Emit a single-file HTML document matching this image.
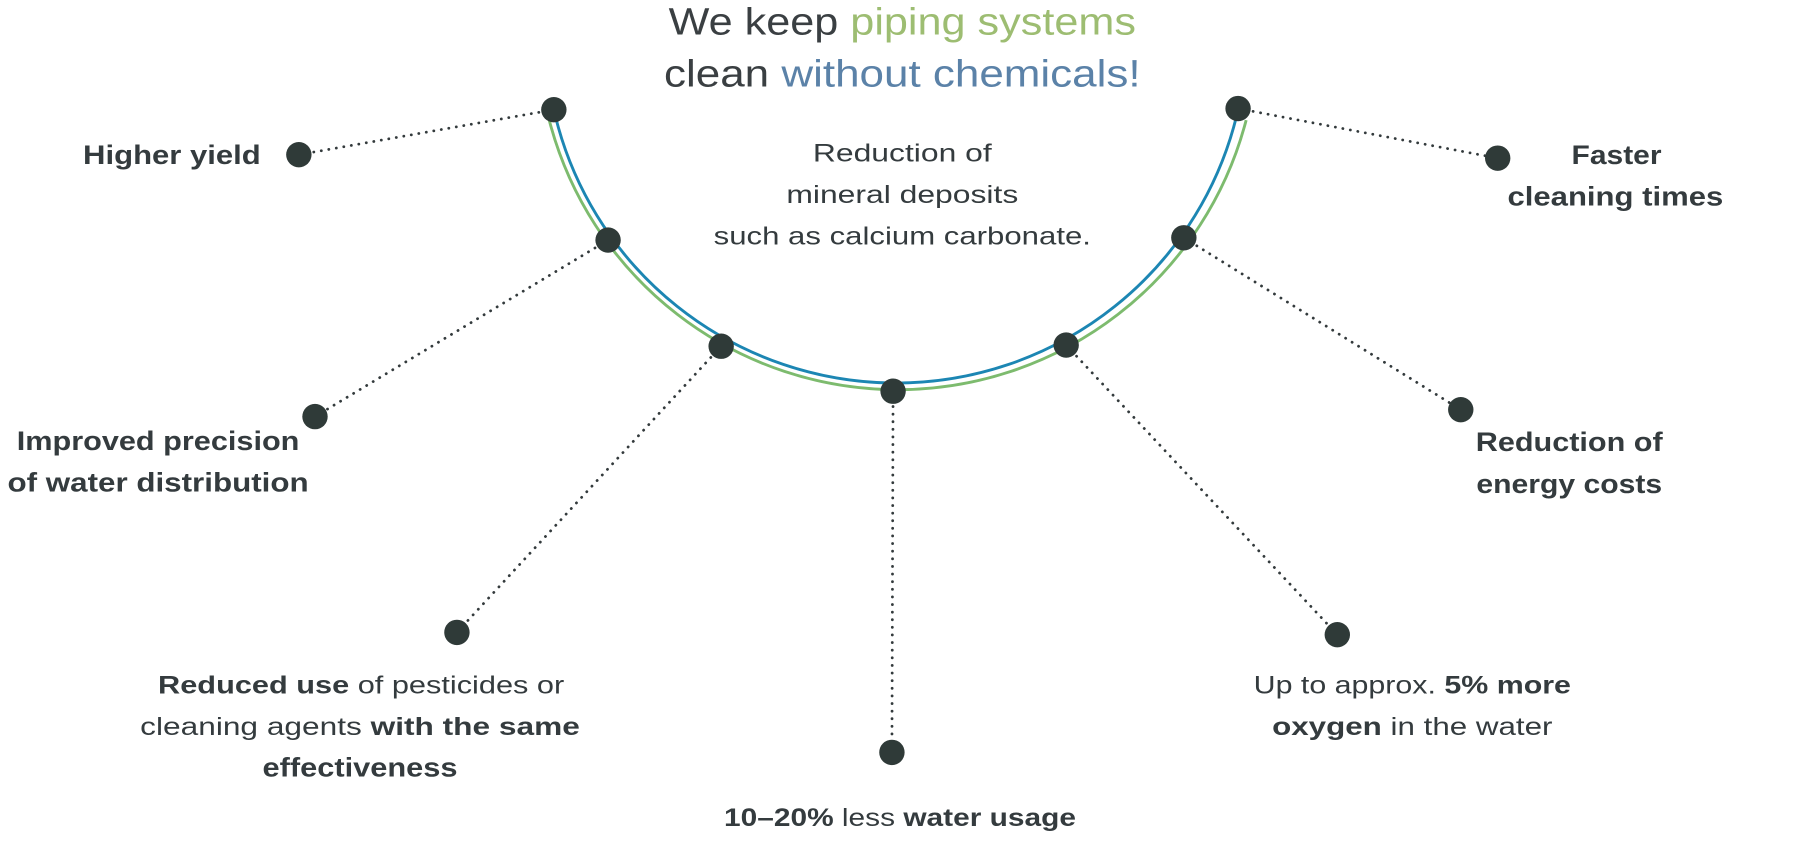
<!DOCTYPE html>
<html><head><meta charset="utf-8"><style>
html,body{margin:0;padding:0;background:#fff;}
svg{display:block;}
text{font-family:"Liberation Sans",sans-serif;fill:#343b3e;}
.b{font-weight:bold;font-size:23px;}
.n{font-size:22px;}
</style></head><body>
<svg width="1800" height="854" viewBox="0 0 1560 740" xmlns="http://www.w3.org/2000/svg">
<text x="782" y="30" text-anchor="middle" font-size="33" textLength="405" lengthAdjust="spacingAndGlyphs" style="fill:#3a3f42">We keep <tspan style="fill:#9dbd72">piping systems</tspan></text>
<text x="782" y="75" text-anchor="middle" font-size="33" textLength="413" lengthAdjust="spacingAndGlyphs" style="fill:#3a3f42">clean <tspan style="fill:#5b82a8">without chemicals!</tspan></text>

<path d="M476 104 A312 312 0 0 0 1080 104" fill="none" stroke="#7dbb6e" stroke-width="2.5"/>
<path d="M480 95 A304 304 0 0 0 1073 95" fill="none" stroke="#1c86b3" stroke-width="2.5"/>

<g stroke="#333a3c" stroke-width="2.4" stroke-dasharray="0.1 6.5" stroke-linecap="round" fill="none">
<line x1="480" y1="95" x2="259" y2="134"/>
<line x1="527" y1="208" x2="273" y2="361"/>
<line x1="625" y1="300" x2="396" y2="548"/>
<line x1="774" y1="339" x2="773" y2="652"/>
<line x1="924" y1="299" x2="1159" y2="550"/>
<line x1="1026" y1="206" x2="1266" y2="355"/>
<line x1="1073" y1="94" x2="1298" y2="137"/>
</g>
<g fill="#2f3a38">
<circle cx="480" cy="95" r="11"/><circle cx="259" cy="134" r="11"/>
<circle cx="527" cy="208" r="11"/><circle cx="273" cy="361" r="11"/>
<circle cx="625" cy="300" r="11"/><circle cx="396" cy="548" r="11"/>
<circle cx="774" cy="339" r="11"/><circle cx="773" cy="652" r="11"/>
<circle cx="924" cy="299" r="11"/><circle cx="1159" cy="550" r="11"/>
<circle cx="1026" cy="206" r="11"/><circle cx="1266" cy="355" r="11"/>
<circle cx="1073" cy="94" r="11"/><circle cx="1298" cy="137" r="11"/>
</g>

<text class="n" x="782" y="140" text-anchor="middle" textLength="155" lengthAdjust="spacingAndGlyphs">Reduction of</text>
<text class="n" x="782" y="176" text-anchor="middle" textLength="201" lengthAdjust="spacingAndGlyphs">mineral deposits</text>
<text class="n" x="782" y="212" text-anchor="middle" textLength="327" lengthAdjust="spacingAndGlyphs">such as calcium carbonate.</text>

<text class="b" x="72" y="142" textLength="154" lengthAdjust="spacingAndGlyphs">Higher yield</text>
<text class="b" x="1401" y="142" text-anchor="middle" textLength="78" lengthAdjust="spacingAndGlyphs">Faster</text>
<text class="b" x="1400" y="178" text-anchor="middle" textLength="187" lengthAdjust="spacingAndGlyphs">cleaning times</text>
<text class="b" x="137" y="390" text-anchor="middle" textLength="245" lengthAdjust="spacingAndGlyphs">Improved precision</text>
<text class="b" x="137" y="426" text-anchor="middle" textLength="261" lengthAdjust="spacingAndGlyphs">of water distribution</text>
<text class="b" x="1360" y="391" text-anchor="middle" textLength="162" lengthAdjust="spacingAndGlyphs">Reduction of</text>
<text class="b" x="1360" y="427" text-anchor="middle" textLength="161" lengthAdjust="spacingAndGlyphs">energy costs</text>

<text class="n" x="313" y="601" text-anchor="middle" textLength="352" lengthAdjust="spacingAndGlyphs"><tspan font-weight="bold">Reduced use</tspan> of pesticides or</text>
<text class="n" x="312" y="637" text-anchor="middle" textLength="381" lengthAdjust="spacingAndGlyphs">cleaning agents <tspan font-weight="bold">with the same</tspan></text>
<text class="b" x="312" y="673" text-anchor="middle" textLength="169" lengthAdjust="spacingAndGlyphs">effectiveness</text>

<text class="n" x="780" y="716" text-anchor="middle" textLength="305" lengthAdjust="spacingAndGlyphs"><tspan font-weight="bold">10–20%</tspan> less <tspan font-weight="bold">water usage</tspan></text>

<text class="n" x="1224" y="601" text-anchor="middle" textLength="275" lengthAdjust="spacingAndGlyphs">Up to approx. <tspan font-weight="bold">5% more</tspan></text>
<text class="n" x="1224" y="637" text-anchor="middle" textLength="243" lengthAdjust="spacingAndGlyphs"><tspan font-weight="bold">oxygen</tspan> in the water</text>
</svg>
</body></html>
